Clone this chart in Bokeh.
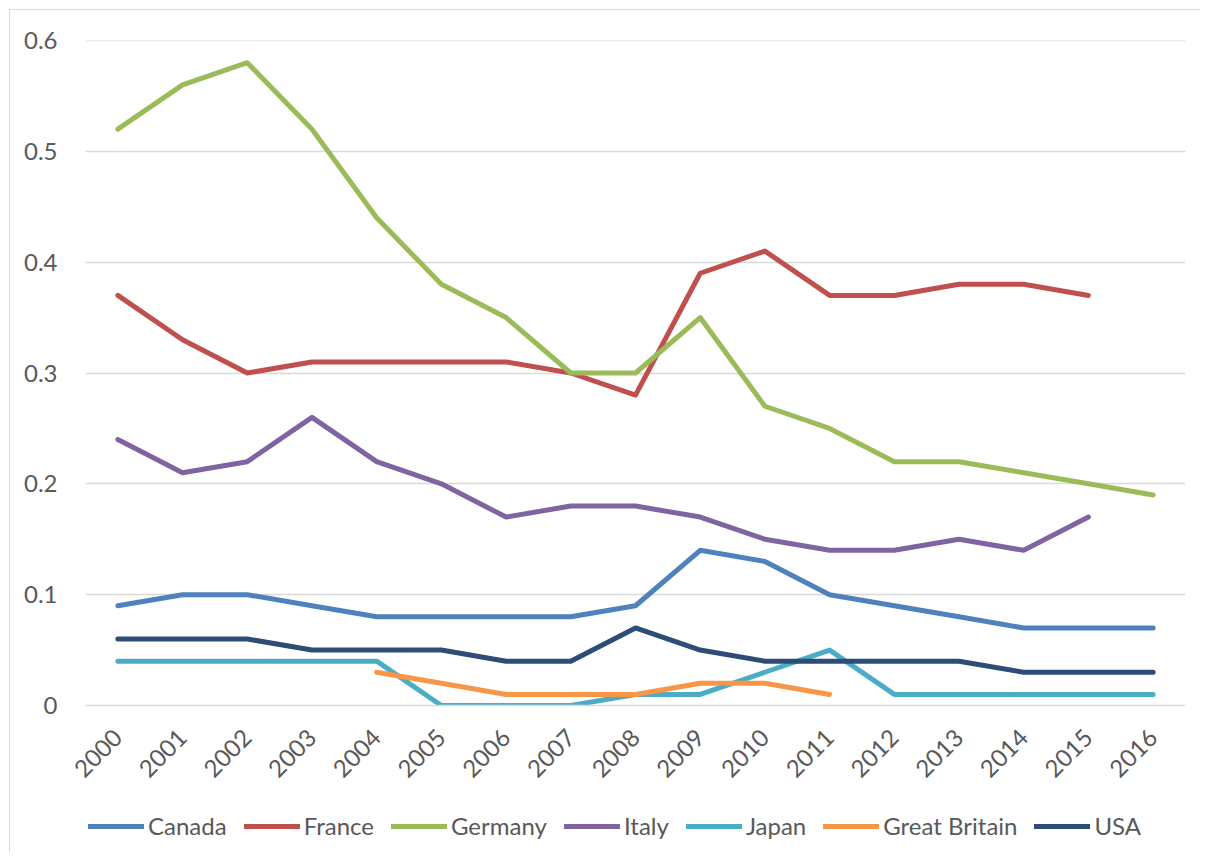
import math
from bokeh.plotting import figure
from bokeh.layouts import column
from bokeh.models import (ColumnDataSource, Legend, LegendItem, SingleIntervalTicker,
                          FactorRange, Range1d, CustomJSTickFormatter)
from bokeh.embed import file_html
from bokeh.resources import INLINE

nan = float("nan")
years = [str(y) for y in range(2000, 2017)]

canada = [0.09, 0.10, 0.10, 0.09, 0.08, 0.08, 0.08, 0.08, 0.09, 0.14, 0.13, 0.10, 0.09, 0.08, 0.07, 0.07, 0.07]
france = [0.37, 0.33, 0.30, 0.31, 0.31, 0.31, 0.31, 0.30, 0.28, 0.39, 0.41, 0.37, 0.37, 0.38, 0.38, 0.37, nan]
germany = [0.52, 0.56, 0.58, 0.52, 0.44, 0.38, 0.35, 0.30, 0.30, 0.35, 0.27, 0.25, 0.22, 0.22, 0.21, 0.20, 0.19]
italy = [0.24, 0.21, 0.22, 0.26, 0.22, 0.20, 0.17, 0.18, 0.18, 0.17, 0.15, 0.14, 0.14, 0.15, 0.14, 0.17, nan]
japan = [0.04, 0.04, 0.04, 0.04, 0.04, 0.00, 0.00, 0.00, 0.01, 0.01, 0.03, 0.05, 0.01, 0.01, 0.01, 0.01, 0.01]
great_britain = [nan, nan, nan, nan, 0.03, 0.02, 0.01, 0.01, 0.01, 0.02, 0.02, 0.01, nan, nan, nan, nan, nan]
usa = [0.06, 0.06, 0.06, 0.05, 0.05, 0.05, 0.04, 0.04, 0.07, 0.05, 0.04, 0.04, 0.04, 0.04, 0.03, 0.03, 0.03]

series_names = ["Canada", "France", "Germany", "Italy", "Japan", "Great Britain", "USA"]
series_values = [canada, france, germany, italy, japan, great_britain, usa]
colors = ["#4F81BD", "#C0504D", "#9BBB59", "#8064A2", "#4BACC6", "#F79646", "#2C4D75"]

FONT = "Lato"
GRAY = "#595959"
GRID = "#d9d9d9"
FS = "24px"
W = 1190

p = figure(
    width=W, height=790,
    x_range=FactorRange(factors=years, range_padding=0),
    y_range=Range1d(0, 0.6 + 1e-9),
    output_backend="svg", toolbar_location=None,
    min_border_left=75, min_border_right=15, min_border_top=30, min_border_bottom=95,
)
p.outline_line_color = None
p.background_fill_color = "white"
p.border_fill_color = "white"

src = ColumnDataSource(dict(x=years, **{f"s{i}": v for i, v in enumerate(series_values)}))

for i, (name, col) in enumerate(zip(series_names, colors)):
    p.line("x", f"s{i}", source=src, line_color=col, line_width=5,
           line_cap="round", line_join="round")

p.yaxis.ticker = SingleIntervalTicker(interval=0.1)
p.yaxis.formatter = CustomJSTickFormatter(code="return tick < 1e-9 ? '0' : tick.toFixed(1)")
p.yaxis.axis_line_color = None
p.yaxis.major_tick_line_color = None
p.yaxis.minor_tick_line_color = None
p.yaxis.major_label_standoff = 22
p.yaxis.major_label_text_font = FONT
p.yaxis.major_label_text_font_size = FS
p.yaxis.major_label_text_color = GRAY

p.xaxis.axis_line_color = GRID
p.xaxis.axis_line_width = 1.5
p.xaxis.major_tick_line_color = None
p.xaxis.minor_tick_line_color = None
p.xaxis.major_label_orientation = math.pi / 4
p.xaxis.major_label_standoff = 22
p.xaxis.major_label_text_font = FONT
p.xaxis.major_label_text_font_size = FS
p.xaxis.major_label_text_color = GRAY

p.xgrid.grid_line_color = None
p.ygrid.grid_line_color = GRID
p.ygrid.grid_line_width = 1.5

# legend strip (separate small figure so the legend is not clipped by the main frame)
lg = figure(width=W, height=52, x_range=Range1d(0, 1), y_range=Range1d(0, 1),
            x_axis_location=None, y_axis_location=None,
            output_backend="svg", toolbar_location=None,
            min_border_left=0, min_border_right=0, min_border_top=0, min_border_bottom=0)
lg.grid.visible = False
lg.outline_line_color = None
lg.background_fill_color = "white"
lg.border_fill_color = "white"
items = []
for name, col in zip(series_names, colors):
    r = lg.line(x=[nan, nan], y=[nan, nan], line_color=col, line_width=5, line_cap="round")
    items.append(LegendItem(label=name, renderers=[r]))

legend = Legend(
    items=items, orientation="horizontal", location=(3, 12),
    glyph_width=56, glyph_height=20,
    label_standoff=4, spacing=17, padding=0, margin=0,
    border_line_color=None, background_fill_alpha=0,
    label_text_font=FONT, label_text_font_size=FS, label_text_color=GRAY,
)
lg.add_layout(legend, "center")

layout = column(p, lg, spacing=0)
layout.styles = {"margin-left": "9px", "margin-top": "9px",
                 "border-left": "1px solid #d9d9d9", "border-top": "1px solid #d9d9d9"}

open("out.html", "w").write(file_html(layout, INLINE))
